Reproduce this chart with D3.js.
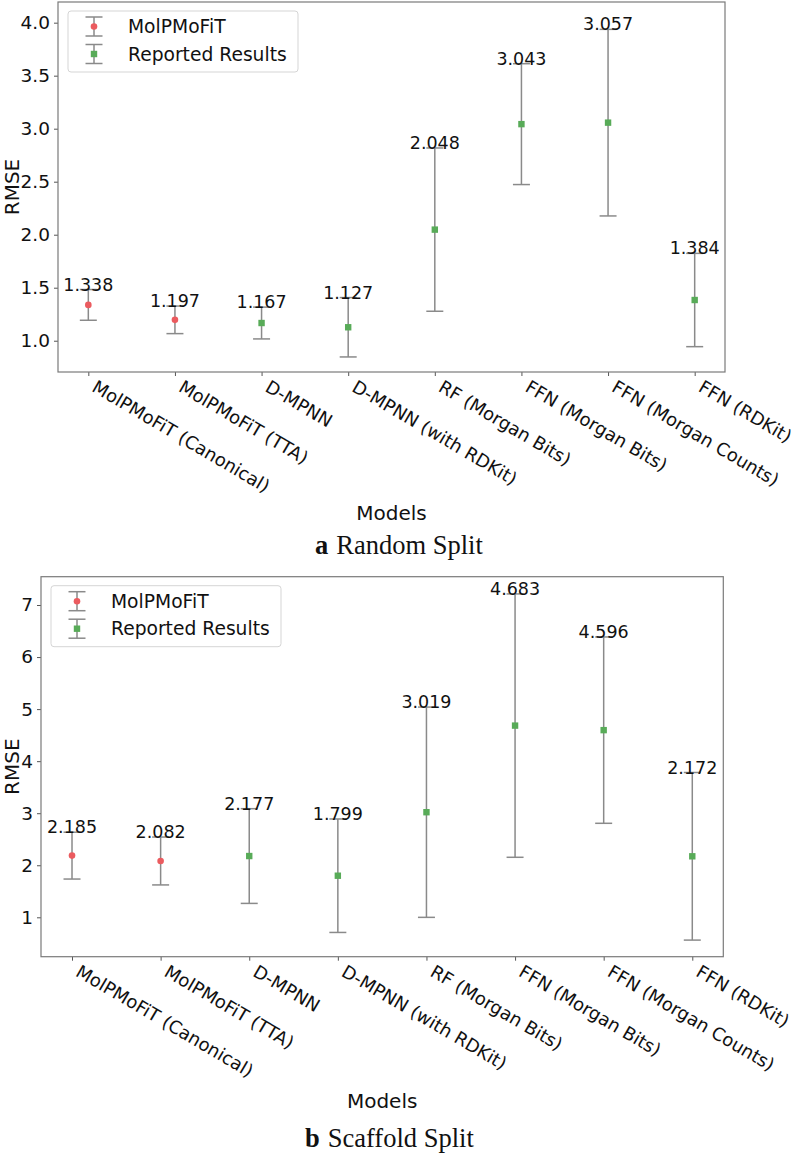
<!DOCTYPE html>
<html>
<head>
<meta charset="utf-8">
<script src="https://cdn.jsdelivr.net/npm/d3@7"></script>
<style>
  body { margin: 0; background: #fff; }
  svg { display: block; }
  text { font-family: "DejaVu Sans", sans-serif; fill: #111; }
</style>
</head>
<body>
<script>
// models on the x axis
var models = ["MolPMoFiT (Canonical)", "MolPMoFiT (TTA)", "D-MPNN", "D-MPNN (with RDKit)",
  "RF (Morgan Bits)", "FFN (Morgan Bits)", "FFN (Morgan Counts)", "FFN (RDKit)"];
// which legend series each model belongs to
var source = ["MolPMoFiT", "MolPMoFiT", "Reported Results", "Reported Results",
  "Reported Results", "Reported Results", "Reported Results", "Reported Results"];

// a Random Split
var randomMean = [1.338, 1.197, 1.167, 1.127, 2.048, 3.043, 3.057, 1.384];
var randomStd = [0.145, 0.13, 0.15, 0.28, 0.77, 0.57, 0.88, 0.44];
var randomTicks = [1.0, 1.5, 2.0, 2.5, 3.0, 3.5, 4.0];

// b Scaffold Split
var scaffoldMean = [2.185, 2.082, 2.177, 1.799, 3.019, 4.683, 4.596, 2.172];
var scaffoldStd = [0.45, 0.46, 0.91, 1.09, 2.02, 2.53, 1.79, 1.61];
var scaffoldTicks = [1, 2, 3, 4, 5, 6, 7];

var legendNames = ["MolPMoFiT", "Reported Results"];

var markerColor = { "MolPMoFiT": "#eb5b5f", "Reported Results": "#58ab58" };
var barColor = "#8a8a8a";

var svg = d3.select("body").append("svg")
  .attr("width", 796)
  .attr("height", 1158);

function panel(opt) {
  var x = d3.scalePoint()
    .domain(models)
    .range([opt.left, opt.right])
    .padding(0.35);

  var y = d3.scaleLinear()
    .domain(opt.domain)
    .range([opt.bottom, opt.top]);

  var g = svg.append("g");

  // y axis
  var yAxis = d3.axisLeft(y)
    .tickValues(opt.ticks)
    .tickFormat(opt.fmt)
    .tickSize(4)
    .tickPadding(4);
  var ya = g.append("g")
    .attr("transform", "translate(" + opt.left + ",0)")
    .call(yAxis);
  ya.select(".domain").remove();
  ya.selectAll("line").attr("stroke", "#555");
  ya.selectAll("text").style("font-size", "18.5px").attr("fill", "#111");

  // x axis
  var xa = g.append("g")
    .attr("transform", "translate(0," + opt.bottom + ")")
    .call(d3.axisBottom(x).tickSize(4));
  xa.select(".domain").remove();
  xa.selectAll("line").attr("stroke", "#555");
  xa.selectAll("text")
    .style("font-size", "18px")
    .attr("fill", "#111")
    .attr("text-anchor", "start")
    .attr("x", 0).attr("y", 0).attr("dy", 0)
    .attr("transform", "translate(2,18.5) rotate(30.5)");

  // frame
  g.append("rect")
    .attr("x", opt.left)
    .attr("y", opt.top)
    .attr("width", opt.right - opt.left)
    .attr("height", opt.bottom - opt.top)
    .attr("fill", "none")
    .attr("stroke", "#7a7a7a")
    .attr("stroke-width", 1.2);

  var data = models.map(function(m, i) {
    return { model: m, mean: opt.mean[i], std: opt.std[i], src: source[i] };
  });

  var cap = 8.5;
  var bars = g.selectAll(".bar").data(data).enter().append("g").attr("class", "bar");

  bars.append("line")
    .attr("x1", function(d) { return x(d.model); })
    .attr("x2", function(d) { return x(d.model); })
    .attr("y1", function(d) { return y(d.mean - d.std); })
    .attr("y2", function(d) { return y(d.mean + d.std); })
    .attr("stroke", barColor).attr("stroke-width", 1.5);
  bars.append("line")
    .attr("x1", function(d) { return x(d.model) - cap; })
    .attr("x2", function(d) { return x(d.model) + cap; })
    .attr("y1", function(d) { return y(d.mean - d.std); })
    .attr("y2", function(d) { return y(d.mean - d.std); })
    .attr("stroke", barColor).attr("stroke-width", 1.5);
  bars.append("line")
    .attr("x1", function(d) { return x(d.model) - cap; })
    .attr("x2", function(d) { return x(d.model) + cap; })
    .attr("y1", function(d) { return y(d.mean + d.std); })
    .attr("y2", function(d) { return y(d.mean + d.std); })
    .attr("stroke", barColor).attr("stroke-width", 1.5);

  bars.each(function(d) {
    var b = d3.select(this);
    if (d.src == "MolPMoFiT") {
      b.append("circle")
        .attr("cx", x(d.model)).attr("cy", y(d.mean)).attr("r", 3.3)
        .attr("fill", markerColor[d.src]);
    } else {
      b.append("rect")
        .attr("x", x(d.model) - 3.2).attr("y", y(d.mean) - 3.2)
        .attr("width", 6.4).attr("height", 6.4)
        .attr("fill", markerColor[d.src]);
    }
  });

  // value labels at top of error bar
  bars.append("text")
    .attr("x", function(d) { return x(d.model); })
    .attr("y", function(d) { return y(d.mean + d.std) + 1; })
    .attr("text-anchor", "middle")
    .style("font-size", "17.5px")
    .text(function(d) { return d3.format(".3f")(d.mean); });

  // legend
  var lx = opt.left + 10, ly = opt.top + 9;
  var lg = g.append("g");
  lg.append("rect")
    .attr("x", lx).attr("y", ly)
    .attr("width", 230).attr("height", 61)
    .attr("rx", 3)
    .attr("fill", "#fff")
    .attr("stroke", "#d5d5d5");
  legendNames.forEach(function(name, i) {
    var cy = ly + 15.5 + i * 27.5;
    var cx = lx + 26;
    lg.append("line").attr("x1", cx).attr("x2", cx).attr("y1", cy - 9.5).attr("y2", cy + 9.5)
      .attr("stroke", barColor).attr("stroke-width", 1.5);
    [-9.5, 9.5].forEach(function(o) {
      lg.append("line").attr("x1", cx - cap).attr("x2", cx + cap).attr("y1", cy + o).attr("y2", cy + o)
        .attr("stroke", barColor).attr("stroke-width", 1.5);
    });
    if (i == 0) {
      lg.append("circle").attr("cx", cx).attr("cy", cy).attr("r", 3.3).attr("fill", markerColor[name]);
    } else {
      lg.append("rect").attr("x", cx - 3.2).attr("y", cy - 3.2).attr("width", 6.4).attr("height", 6.4)
        .attr("fill", markerColor[name]);
    }
    lg.append("text")
      .attr("x", lx + 60).attr("y", cy + 6.5)
      .style("font-size", "18.7px")
      .text(name);
  });

  // axis labels
  g.append("text")
    .attr("transform", "translate(" + opt.ylabX + "," + ((opt.top + opt.bottom) / 2) + ") rotate(-90)")
    .attr("text-anchor", "middle")
    .style("font-size", "20px")
    .text("RMSE");
  g.append("text")
    .attr("x", (opt.left + opt.right) / 2)
    .attr("y", opt.xlabY)
    .attr("text-anchor", "middle")
    .style("font-size", "20px")
    .text("Models");

  // caption
  var c = g.append("text")
    .attr("x", opt.capX)
    .attr("y", opt.capY)
    .style("font-family", "'Liberation Serif', 'Times New Roman', serif")
    .style("font-size", "26.5px");
  c.append("tspan").style("font-weight", "bold").text(opt.capLetter);
  c.append("tspan").attr("dx", 8).text(opt.capText);
}

panel({
  left: 58, right: 725, top: 2, bottom: 372,
  domain: [0.705, 4.195],
  ticks: randomTicks, fmt: d3.format(".1f"),
  mean: randomMean, std: randomStd,
  ylabX: 19, xlabY: 520,
  capX: 315, capY: 554, capLetter: "a", capText: "Random Split"
});

panel({
  left: 41, right: 723.3, top: 576.7, bottom: 956.7,
  domain: [0.243, 7.544],
  ticks: scaffoldTicks, fmt: d3.format("d"),
  mean: scaffoldMean, std: scaffoldStd,
  ylabX: 19, xlabY: 1108,
  capX: 305, capY: 1147, capLetter: "b", capText: "Scaffold Split"
});
</script>
</body>
</html>
